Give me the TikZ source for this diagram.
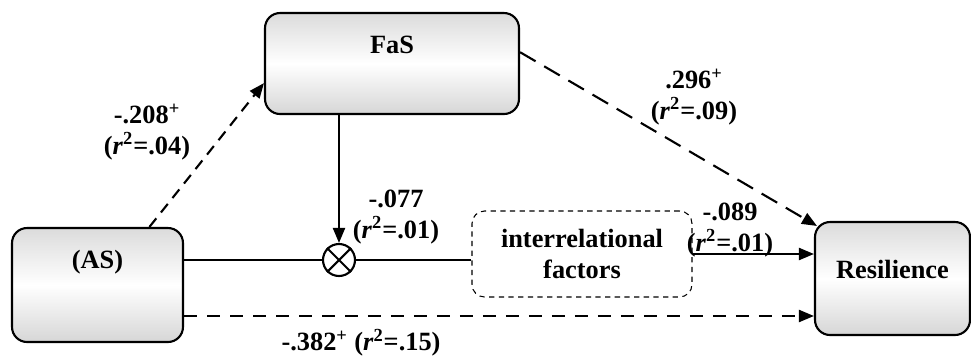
\documentclass[tikz,border=0pt]{standalone}
\usepackage{fontspec}
\setmainfont{Liberation Serif}
\usetikzlibrary{arrows.meta,calc}
\begin{document}
\begin{tikzpicture}[x=0.02cm,y=-0.02cm,
  txt/.style={font=\fontsize{15}{17.2}\selectfont\bfseries},
  box/.style={txt, draw=black, line width=1.2pt, rounded corners=0.3cm,
    top color=gray!28, bottom color=gray!32, middle color=white, inner sep=0pt},
  dbox/.style={draw=black, line width=0.6pt, dash pattern=on 3pt off 2.5pt,
    rounded corners=0.25cm, inner sep=0pt, align=center, font=\fontsize{15}{18}\selectfont\bfseries},
  lab/.style={txt, align=center, inner sep=0pt},
  conn/.style={line width=1.2pt},
  tip/.style={-{Triangle[length=0.3cm,width=0.24cm]}},
  dashA/.style={conn, dash pattern=on 0.22cm off 0.15cm},
  dashB/.style={conn, dash pattern=on 0.36cm off 0.2cm},
  dashC/.style={conn, dash pattern=on 0.26cm off 0.2cm}]
\useasboundingbox (0,0) rectangle (971,356);

\node[box, minimum width=5.08cm, minimum height=2.02cm, text height=0.36cm, text depth=0.78cm] (fas) at (392,63.5) {FaS};
\node[box, minimum width=3.42cm, minimum height=2.28cm, text height=0.36cm, text depth=1.04cm] (as) at (97.5,285) {(AS)};
\node[box, minimum width=3.1cm, minimum height=2.26cm, text height=0.36cm, text depth=0.36cm] (res) at (892.5,278.5) {Resilience};
\node[dbox, minimum width=4.4cm, minimum height=1.72cm] (inter) at (582,254) {interrelational\\factors};
\node[circle, draw=black, line width=1.2pt, fill=white, minimum size=0.64cm, inner sep=0pt] (x) at (339,260) {};
\draw[line width=1.2pt] (x.north west) -- (x.south east) (x.north east) -- (x.south west);

% connectors
\draw[conn] (as.east |- x.west) -- (x.west);
\draw[conn] (x.east) -- (inter.west |- x.east);
\draw[conn, tip] (fas.south -| x.north) -- (x.north);
\draw[conn, tip] (inter.east) -- (inter.east -| res.west);
\draw[dashC, tip] ([yshift=-0.62cm]as.east) -- ([yshift=-0.62cm]as.east -| res.west);
\draw[dashA, tip] ($(as.north west)!0.8!(as.north east)$) -- ($(fas.north west)!0.69!(fas.south west)$);
\draw[dashB, tip] ($(fas.north east)!0.39!(fas.south east)$) -- ($(res.north west)+(3,5)$);

% labels
\node[lab] (l1) at (147,132) {-.208\textsuperscript{+}\\(\textit{r}\textsuperscript{2}=.04)};
\node[lab] (l2) at (694,97) {.296\textsuperscript{+}\\(\textit{r}\textsuperscript{2}=.09)};
\node[lab] (l3) at (396,217) {-.077\\(\textit{r}\textsuperscript{2}=.01)};
\node[lab] (l4) at (730,230) {-.089\\(\textit{r}\textsuperscript{2}=.01)};
\node[lab] (l5) at (361,343) {-.382\textsuperscript{+} (\textit{r}\textsuperscript{2}=.15)};
\end{tikzpicture}
\end{document}
